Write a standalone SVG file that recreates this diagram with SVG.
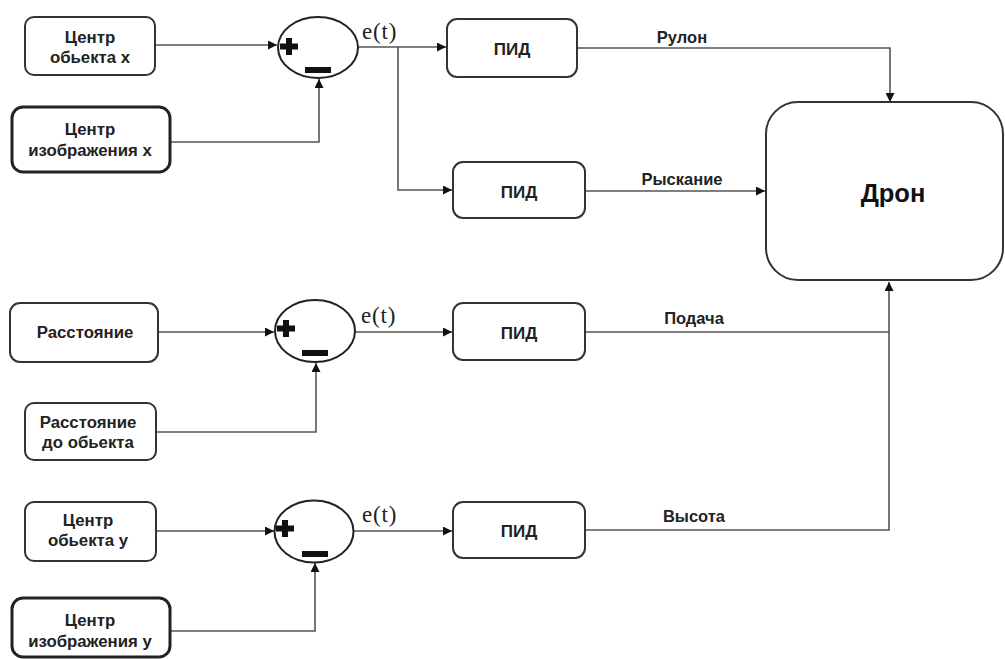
<svg xmlns="http://www.w3.org/2000/svg" width="1005" height="659" viewBox="0 0 1005 659">
<style>
.box{fill:#fff;stroke:#333;stroke-width:2}
.thick{stroke:#222;stroke-width:3}
.sum{fill:#fff;stroke:#222;stroke-width:2}
.t{font-family:"Liberation Sans",Arial,sans-serif;font-weight:bold;font-size:16.8px;fill:#222;text-anchor:middle}
.p{font-family:"Liberation Sans",Arial,sans-serif;font-weight:bold;font-size:17px;fill:#222;text-anchor:middle}
.lbl{font-family:"Liberation Sans",Arial,sans-serif;font-weight:bold;font-size:16.5px;fill:#222;text-anchor:middle}
.et{font-family:"Liberation Serif","Times New Roman",serif;font-size:23px;letter-spacing:0.8px;fill:#222}
.big{font-family:"Liberation Sans",Arial,sans-serif;font-weight:bold;font-size:25.5px;fill:#111;text-anchor:middle}
.c{fill:none;stroke:#555;stroke-width:1.6}
.sign{fill:#111}
</style>
<defs>
<marker id="ah" viewBox="0 0 10 10" refX="10" refY="5" markerWidth="9" markerHeight="9" markerUnits="userSpaceOnUse" orient="auto">
<path d="M0,0 L10,5 L0,10 z" fill="#111"/>
</marker>
</defs>
<rect width="1005" height="659" fill="#fff"/>

<g id="connectors">
<path class="c" d="M155,45 H277" marker-end="url(#ah)"/>
<path class="c" d="M170,142 H319 V79" marker-end="url(#ah)"/>
<path class="c" d="M358,47 H446" marker-end="url(#ah)"/>
<path class="c" d="M398,47 V190 H452" marker-end="url(#ah)"/>
<path class="c" d="M577,48 H890 V102" marker-end="url(#ah)"/>
<path class="c" d="M585,191 H765" marker-end="url(#ah)"/>
<path class="c" d="M158,332 H274" marker-end="url(#ah)"/>
<path class="c" d="M156,432 H316 V363" marker-end="url(#ah)"/>
<path class="c" d="M355,332 H452" marker-end="url(#ah)"/>
<path class="c" d="M156,531 H274" marker-end="url(#ah)"/>
<path class="c" d="M170,631 H315 V563" marker-end="url(#ah)"/>
<path class="c" d="M353,531 H452" marker-end="url(#ah)"/>
<path class="c" d="M585,332 H889"/>
<path class="c" d="M585,530 H889 V282" marker-end="url(#ah)"/>
<text class="et" x="362" y="39">e(t)</text>
<text class="et" x="361" y="323">e(t)</text>
<text class="et" x="362" y="522">e(t)</text>
<text class="lbl" x="682" y="43">Рулон</text>
<text class="lbl" x="682" y="185">Рыскание</text>
<text class="lbl" x="694" y="324">Подача</text>
<text class="lbl" x="694" y="522">Высота</text>
</g>

<g id="center-obj-x">
<rect class="box" x="25" y="17" width="130" height="58" rx="9"/>
<text class="t" x="90" y="43">Центр</text>
<text class="t" x="90" y="63">обьекта х</text>
</g>
<g id="center-img-x">
<rect class="box thick" x="12" y="107" width="158" height="65" rx="11"/>
<text class="t" x="90" y="135">Центр</text>
<text class="t" x="90" y="156">изображения х</text>
</g>
<g id="sum1">
<ellipse class="sum" cx="318" cy="47.5" rx="40" ry="30.5"/>
<path class="sign" d="M286,38 h6 v5.5 h6 v6 h-6 v5.5 h-6 v-5.5 h-6 v-6 h6 z"/>
<rect class="sign" x="305" y="67" width="26" height="6"/>
</g>
<g id="pid1">
<rect class="box" x="447" y="19" width="130" height="58" rx="10"/>
<text class="p" x="512" y="55">ПИД</text>
</g>
<g id="pid2">
<rect class="box" x="453" y="162" width="132" height="56" rx="10"/>
<text class="p" x="519" y="198">ПИД</text>
</g>
<g id="drone">
<rect class="box" x="766" y="102" width="237" height="178" rx="32"/>
<text class="big" x="893" y="202">Дрон</text>
</g>

<g id="distance">
<rect class="box" x="10" y="303" width="148" height="59" rx="10"/>
<text class="t" x="85" y="338">Расстояние</text>
</g>
<g id="distance-obj">
<rect class="box" x="25" y="403" width="131" height="57" rx="9"/>
<text class="t" x="88" y="428">Расстояние</text>
<text class="t" x="88" y="448">до обьекта</text>
</g>
<g id="sum2">
<ellipse class="sum" cx="315" cy="331" rx="40" ry="31"/>
<path class="sign" d="M283,320 h6 v5.5 h6 v6 h-6 v5.5 h-6 v-5.5 h-6 v-6 h6 z"/>
<rect class="sign" x="302" y="350" width="26" height="6"/>
</g>
<g id="pid3">
<rect class="box" x="453" y="303" width="132" height="57" rx="10"/>
<text class="p" x="519" y="339">ПИД</text>
</g>

<g id="center-obj-y">
<rect class="box" x="25" y="502" width="131" height="59" rx="9"/>
<text class="t" x="88" y="526">Центр</text>
<text class="t" x="88" y="546">обьекта у</text>
</g>
<g id="center-img-y">
<rect class="box thick" x="12" y="598" width="158" height="59" rx="11"/>
<text class="t" x="90" y="626">Центр</text>
<text class="t" x="90" y="647">изображения у</text>
</g>
<g id="sum3">
<ellipse class="sum" cx="314" cy="531.5" rx="39.5" ry="31"/>
<path class="sign" d="M282,520 h6 v5.5 h6 v6 h-6 v5.5 h-6 v-5.5 h-6 v-6 h6 z"/>
<rect class="sign" x="302" y="551" width="26" height="6"/>
</g>
<g id="pid4">
<rect class="box" x="453" y="502" width="132" height="56" rx="10"/>
<text class="p" x="519" y="537">ПИД</text>
</g>
</svg>
